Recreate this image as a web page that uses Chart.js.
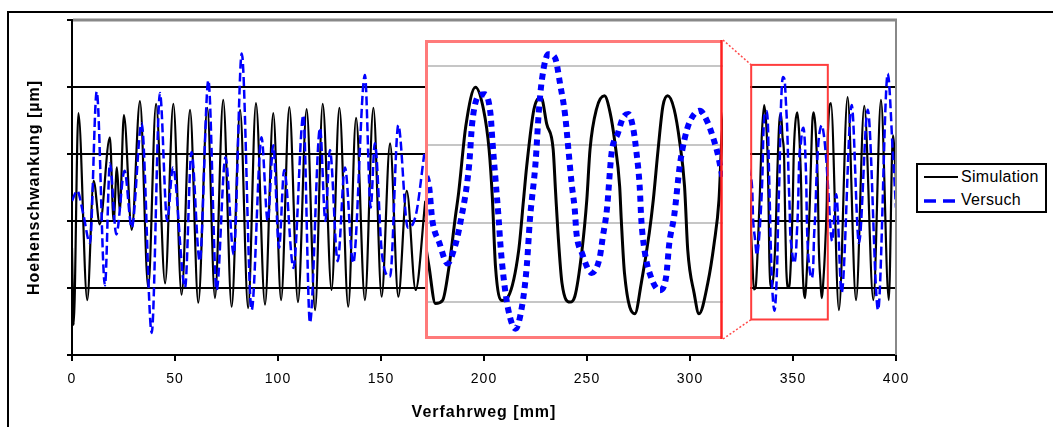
<!DOCTYPE html>
<html>
<head>
<meta charset="utf-8">
<script src="https://cdn.jsdelivr.net/npm/chart.js@4.4.1/dist/chart.umd.min.js"></script>
<style>
  html, body { margin: 0; padding: 0; background: #fff; }
  #stage { position: relative; width: 1053px; height: 427px; overflow: hidden; background: #fff; }
  #frame { position: absolute; left: 7px; top: 11px; width: 1200px; height: 600px;
           border-left: 2px solid #000; border-top: 2px solid #000; }
  #main { position: absolute; left: 0; top: 0; }
  #inset { position: absolute; left: 425px; top: 40px; filter: blur(0.4px); }
  #legend { position: absolute; left: 916px; top: 163px; width: 127px; height: 46px;
            border: 2px solid #000; background: #fff;
            font-family: "Liberation Sans", Arial, sans-serif; font-size: 16px; color: #000; }
  #legend svg { position: absolute; left: 5px; }
  #legend span { position: absolute; left: 43px; letter-spacing: 0.3px; line-height: 18px; }
</style>
</head>
<body>
<div id="stage">
  <div id="frame"></div>
  <canvas id="main" width="1053" height="427"></canvas>
  <canvas id="inset" width="298" height="299"></canvas>
  <div id="legend">
    <svg width="36" height="6" style="top:9px"><line x1="1" y1="3" x2="35" y2="3" stroke="#000" stroke-width="2"/></svg>
    <span style="top:3px">Simulation</span>
    <svg width="36" height="6" style="top:33px"><line x1="1" y1="3" x2="35" y2="3" stroke="#0000ff" stroke-width="3.5" stroke-dasharray="12 7"/></svg>
    <span style="top:26px">Versuch</span>
  </div>
</div>
<script>
// Travel path [mm] and height deviation of the simulated surface
const simMm = [
  0.0, 0.8, 3.1, 7.4, 10.5, 13.5, 18.4, 20.2, 21.8, 23.2, 25.2, 29.0, 33.0, 37.0, 40.8, 45.2,
  49.2, 53.2, 57.3, 61.3, 65.7, 69.4, 73.4, 77.5, 81.6, 85.5, 89.3, 93.7, 97.7, 101.5, 105.5,
  109.7, 113.9, 118.0, 121.7, 126.0, 129.8, 134.1, 137.9, 142.2, 146.3, 150.3, 154.4, 158.4,
  162.5, 166.8, 171.5, 250,
  327.5, 328.8, 330.2, 331.0, 331.9, 332.7, 333.5, 333.9, 334.8, 336.0, 337.0, 337.7, 338.1,
  338.5, 339.3, 340.1, 341.4, 342.0, 342.4, 343.3, 344.2, 344.9, 345.7, 346.0, 346.3, 346.8,
  347.8, 348.4, 349.3, 349.9, 350.3, 351.1, 352.1, 352.8, 353.4, 354.0, 354.2, 354.6, 355.9,
  356.7, 357.7, 358.2, 358.8, 359.4, 360.0, 360.8, 361.5, 362.1, 362.5, 363.3, 363.9, 365.0,
  365.8, 366.4, 366.8, 368.4, 372.3, 376.5, 380.6, 384.6, 389.0, 392.7, 396.5, 398.5, 400.0
];
const simLevel = [
  1.6, 0.45, 3.61, 0.82, 2.6, 1.95, 3.25, 2.0, 2.8, 2.15, 3.58, 1.87, 3.79, 1.0, 3.75, 1.07,
  3.75, 0.9, 3.66, 0.78, 3.69, 0.85, 3.81, 0.72, 3.66, 0.7, 3.76, 0.75, 3.61, 0.82, 3.7,
  0.79, 3.67, 0.67, 3.75, 0.97, 3.69, 0.72, 3.54, 0.82, 3.69, 0.87, 3.16, 0.87,
  2.45, 0.97, 2.3, null,
  3.6, 2.4, 1.45, 0.98, 1.02, 1.45, 2.09, 2.39, 3.24, 3.73, 3.45, 2.94, 2.34,
  1.45, 1.02, 1.07, 1.66, 2.3, 2.73, 3.45, 3.6, 3.26, 2.94, 2.4, 1.88, 1.24,
  1.0, 1.07, 1.66, 2.3, 2.94, 3.45, 3.62, 3.41, 3.03, 2.47, 2.05, 1.37, 0.85,
  1.24, 1.88, 2.3, 2.94, 3.49, 3.62, 3.45, 3.03, 2.47, 1.66, 1.11, 0.85, 1.24,
  1.75, 2.3, 3.15, 3.76, 0.67, 3.85, 0.82, 3.72, 0.82, 3.81, 0.82, 3.28, 2.6
];

// Travel path [mm] and measured height deviation (test run)
const testMm = [
  0.0, 2.5, 5.5, 8.7, 12.0, 16.0, 18.4, 21.5, 25.5, 29.0, 33.8, 38.7, 42.7, 46.2, 49.0, 54.9,
  58.0, 62.0, 66.2, 70.2, 74.5, 78.5, 82.4, 87.2, 92.0, 95.0, 97.7, 100.5, 103.0, 107.5, 112.3,
  115.5, 120.4, 123.0, 125.2, 129.0, 132.5, 136.5, 142.2, 145.0, 147.0, 150.5, 154.4, 158.4,
  163.0, 167.0, 171.0, 250,
  327.5, 329.0, 330.2, 330.6, 331.5, 332.5, 333.3, 334.1, 335.2, 335.6, 336.4, 337.2, 337.9,
  338.1, 338.5, 338.9, 339.1, 339.5, 340.1, 341.0, 341.8, 342.4, 342.8, 343.5, 343.9, 344.3,
  345.1, 345.9, 346.6, 347.2, 347.6, 348.0, 348.4, 348.6, 349.3, 350.5, 351.5, 351.9, 352.4,
  353.0, 353.8, 354.4, 355.1, 355.7, 356.1, 356.5, 356.7, 357.1, 357.9, 359.0, 359.8, 360.2,
  360.8, 361.5, 362.1, 362.7, 364.0, 365.0, 365.6, 366.2, 366.9, 369.0, 371.0, 373.6, 378.5,
  382.0, 386.3, 391.3, 396.0, 398.5, 400.0
];
const testLevel = [
  2.3, 2.45, 2.1, 1.67, 3.93, 1.04, 2.86, 1.8, 2.75, 1.9, 3.46, 0.33, 3.91, 2.0, 2.8, 1.01,
  3.03, 1.4, 4.1, 0.97, 2.95, 1.5, 4.5, 0.67, 3.25, 2.0, 3.13, 1.6, 2.76, 1.3, 3.58,
  0.48, 3.39, 2.0, 3.06, 1.4, 2.8, 1.37, 4.18, 2.2, 3.16, 1.5, 1.17, 3.43,
  1.9, 2.1, 3.0, null,
  3.0, 2.7, 2.47, 2.05, 1.75, 1.49, 1.66, 2.0, 2.73, 3.28, 3.62, 3.64, 3.37,
  3.07, 2.56, 2.05, 1.75, 1.32, 0.9, 0.66, 0.94, 1.45, 2.05, 2.77, 3.41, 3.83,
  4.15, 4.11, 3.75, 3.37, 2.94, 2.51, 2.17, 1.88, 1.62, 1.37, 1.56, 1.83, 2.17,
  2.9, 3.15, 3.34, 3.39, 3.2, 2.9, 2.47, 2.05, 1.66, 1.32, 1.15, 1.32, 1.75,
  2.09, 2.73, 3.07, 3.28, 3.43, 3.28, 3.11, 2.9, 2.56, 1.7, 2.4, 0.93, 3.73,
  1.67, 3.66, 0.67, 4.2, 3.0, 2.2
];

const xTickValues = [0, 50, 100, 150, 200, 250, 300, 350, 400];
const levelLines = [0, 1, 2, 3, 4, 5];
const detailLines = [1, 2, 3, 4];

// Section that is shown enlarged
const zoomWindow = { min: 329.7, max: 366.9, low: 0.53, high: 4.33 };
const insetBox = { left: 425, top: 40, width: 298, height: 299 };

const toPoints = (xs, ys) => xs.map((x, i) => ({ x: x, y: ys[i] }));
const simPoints = toPoints(simMm, simLevel);
const testPoints = toPoints(testMm, testLevel);

Chart.defaults.font.family = '"Liberation Sans", Arial, sans-serif';
Chart.defaults.color = '#000';

const mainOverlay = {
  id: 'mainOverlay',
  beforeDraw(chart) {
    chart.ctx.letterSpacing = '1px';
  },
  afterDatasetsDraw(chart) {
    const { ctx, chartArea: a, scales: { x } } = chart;
    const right = x.getPixelForValue(zoomWindow.min) - 1;
    ctx.save();
    ctx.fillStyle = '#fff';
    ctx.fillRect(insetBox.left, a.top + 2, right - insetBox.left, a.bottom - a.top - 3);
    ctx.restore();
  },
  afterDraw(chart) {
    const { ctx, chartArea: a, scales: { x, y } } = chart;
    ctx.save();
    // plot frame, top and right
    ctx.strokeStyle = '#888';
    ctx.lineWidth = 3;
    ctx.beginPath(); ctx.moveTo(a.left + 1, a.top); ctx.lineTo(a.right + 1, a.top); ctx.stroke();
    ctx.lineWidth = 2;
    ctx.beginPath(); ctx.moveTo(a.right, a.top); ctx.lineTo(a.right, a.bottom); ctx.stroke();

    // marked section
    const l = x.getPixelForValue(zoomWindow.min), r = x.getPixelForValue(zoomWindow.max);
    const t = y.getPixelForValue(zoomWindow.high), b = y.getPixelForValue(zoomWindow.low);
    ctx.strokeStyle = 'rgba(255,40,40,0.9)';
    ctx.lineWidth = 2;
    ctx.strokeRect(l, t, r - l, b - t);

    // connectors to the enlargement
    const ir = insetBox.left + insetBox.width;
    ctx.strokeStyle = '#ff4a4a';
    ctx.lineWidth = 1.5;
    ctx.setLineDash([2, 2]);
    ctx.beginPath();
    ctx.moveTo(ir, insetBox.top); ctx.lineTo(l, t);
    ctx.moveTo(ir, insetBox.top + insetBox.height); ctx.lineTo(l, b);
    ctx.stroke();
    ctx.restore();
  }
};

new Chart(document.getElementById('main'), {
  type: 'line',
  data: {
    datasets: [
      { label: 'Simulation', data: simPoints, borderColor: '#000', borderWidth: 2.2,
        pointRadius: 0, cubicInterpolationMode: 'monotone', order: 1 },
      { label: 'Versuch', data: testPoints, borderColor: '#0000ff', borderWidth: 2.5,
        borderDash: [9, 4], pointRadius: 0, cubicInterpolationMode: 'monotone', order: 0 }
    ]
  },
  options: {
    responsive: false,
    animation: false,
    events: [],
    layout: { padding: { left: 18, right: 157, top: 20, bottom: 0 } },
    plugins: { legend: { display: false }, tooltip: { enabled: false } },
    scales: {
      x: {
        type: 'linear', min: 0, max: 400,
        afterBuildTicks: s => { s.ticks = xTickValues.map(v => ({ value: v })); },
        afterFit: s => { s.height = 72; },
        ticks: { font: { size: 14 }, padding: 10, maxRotation: 0, autoSkip: false },
        grid: { drawOnChartArea: false, tickLength: 6, color: '#000', lineWidth: 2 },
        border: { color: '#000', width: 2 },
        title: { display: true, text: 'Verfahrweg [mm]', font: { size: 16, weight: 'bold' },
                 padding: { top: 0, bottom: 5 } }
      },
      y: {
        min: 0, max: 5,
        afterBuildTicks: s => { s.ticks = levelLines.map(v => ({ value: v })); },
        afterFit: s => { s.width = 54; },
        ticks: { display: false },
        grid: { color: '#000', lineWidth: 2, tickLength: 5 },
        border: { color: '#000', width: 2 },
        title: { display: true, text: 'Hoehenschwankung [µm]', font: { size: 16, weight: 'bold' },
                 padding: { top: 7, bottom: 0 } }
      }
    }
  },
  plugins: [mainOverlay]
});

const insetFrame = {
  id: 'insetFrame',
  beforeDraw(chart) {
    const { ctx, width, height } = chart;
    ctx.save();
    ctx.fillStyle = '#fff';
    ctx.fillRect(0, 0, width, height);
    ctx.restore();
  },
  afterDraw(chart) {
    const { ctx, width, height } = chart;
    ctx.save();
    ctx.strokeStyle = '#ff7a7a';
    ctx.lineWidth = 3;
    ctx.beginPath();
    ctx.moveTo(width - 2, 1.5); ctx.lineTo(1.5, 1.5); ctx.lineTo(1.5, height - 1.5); ctx.lineTo(width - 2, height - 1.5);
    ctx.stroke();
    ctx.strokeStyle = '#ff2020';
    ctx.lineWidth = 2.5;
    ctx.beginPath(); ctx.moveTo(width - 1.5, 0); ctx.lineTo(width - 1.5, height); ctx.stroke();
    ctx.restore();
  }
};

new Chart(document.getElementById('inset'), {
  type: 'line',
  data: {
    datasets: [
      { data: simPoints, borderColor: '#000', borderWidth: 3, pointRadius: 0,
        cubicInterpolationMode: 'monotone', order: 1 },
      { data: testPoints, borderColor: '#0000ff', borderWidth: 6, borderDash: [6, 5],
        pointRadius: 0, cubicInterpolationMode: 'monotone', order: 0 }
    ]
  },
  options: {
    responsive: false,
    animation: false,
    events: [],
    layout: { padding: 0 },
    plugins: { legend: { display: false }, tooltip: { enabled: false } },
    scales: {
      x: {
        type: 'linear', min: zoomWindow.min, max: zoomWindow.max,
        afterFit: s => { s.height = 0; },
        ticks: { display: false }, grid: { display: false }, border: { display: false }
      },
      y: {
        min: zoomWindow.low, max: zoomWindow.high,
        afterBuildTicks: s => { s.ticks = detailLines.map(v => ({ value: v })); },
        afterFit: s => { s.width = 0; },
        ticks: { display: false },
        grid: { color: '#c6c6c6', lineWidth: 2, drawTicks: false },
        border: { display: false }
      }
    }
  },
  plugins: [insetFrame]
});
</script>
</body>
</html>
